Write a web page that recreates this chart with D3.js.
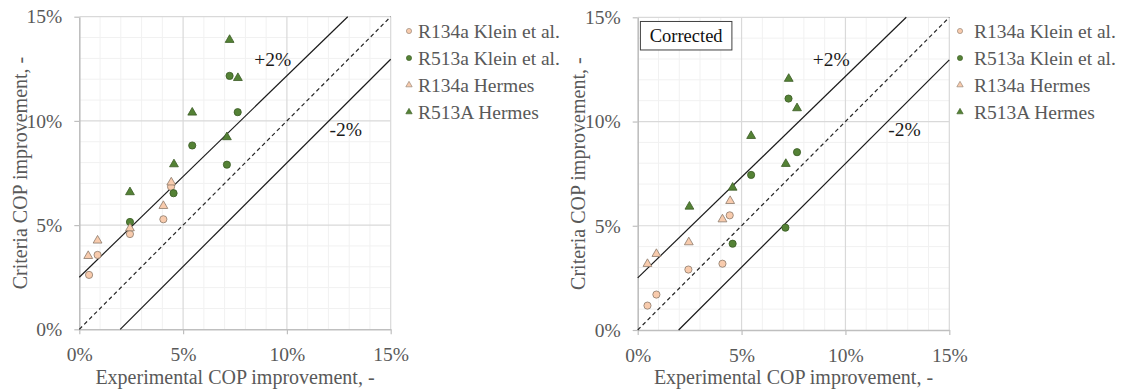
<!DOCTYPE html>
<html>
<head>
<meta charset="utf-8">
<script src="https://cdn.jsdelivr.net/npm/d3@7"></script>
<style>
  html, body { margin: 0; padding: 0; background: #ffffff; }
  svg { display: block; }
  svg text { font-family: "Liberation Serif", "Times New Roman", Times, "DejaVu Serif", serif !important; }
</style>
</head>
<body>
<svg id="chart" width="1125" height="389"></svg>
<script>
// COP improvement in percent: [experimental, criteria]
const seriesNames = ["R134a Klein et al.", "R513a Klein et al.", "R134a Hermes", "R513A Hermes"];
const seriesShapes = ["circle", "circle", "triangle", "triangle"];
const seriesFill = ["#f8cbad", "#548235", "#f8cbad", "#548235"];
const seriesStroke = ["#8c7a6b", "#3a5a24", "#8c7a6b", "#3a5a24"];

// Raw criteria
const rawR134aKlein = [[0.47, 2.61], [0.88, 3.57], [2.44, 4.57], [4.05, 5.28], [4.42, 6.84]];
const rawR513aKlein = [[2.44, 5.15], [4.54, 6.53], [5.44, 8.82], [7.11, 7.90], [7.24, 12.16], [7.63, 10.42]];
const rawR134aHermes = [[0.43, 3.52], [0.88, 4.26], [2.44, 4.85], [4.05, 5.92], [4.43, 7.05]];
const rawR513AHermes = [[2.44, 6.58], [4.56, 7.92], [5.44, 10.40], [7.11, 9.22], [7.24, 13.89], [7.64, 12.06]];

// Corrected criteria
const corR134aKlein = [[0.47, 1.17], [0.90, 1.70], [2.44, 2.90], [4.08, 3.18], [4.43, 5.50]];
const corR513aKlein = [[4.57, 4.14], [5.46, 7.44], [7.11, 4.91], [7.26, 11.10], [7.67, 8.53]];
const corR134aHermes = [[0.47, 3.17], [0.90, 3.65], [2.46, 4.21], [4.08, 5.31], [4.45, 6.19]];
const corR513AHermes = [[2.49, 5.92], [4.57, 6.83], [5.46, 9.31], [7.13, 7.97], [7.27, 12.05], [7.67, 10.64]];

// Reference band: parity line and the +2% / -2% bounds
const parityLine = [[0, 0], [15, 15]];
const upperBound = [[0, 2.5], [12.93, 15]];
const lowerBound = [[1.97, 0], [15, 12.96]];
const boundLabels = [["+2%", 9.32, 12.97], ["-2%", 12.84, 9.62]];

const tickValues = [0, 5, 10, 15];
const minorValues = d3.range(0, 16, 1);
const xTitle = "Experimental COP improvement, -";
const yTitle = "Criteria COP improvement, -";

const panels = [
  { left: 79.3, right: 390.7, top: 16.7, bottom: 329.3, yTitleX: 20, legendX: 409, legendTextX: 418,
    data: [rawR134aKlein, rawR513aKlein, rawR134aHermes, rawR513AHermes], tag: null },
  { left: 637.7, right: 949.3, top: 17.3, bottom: 330, yTitleX: 578, legendX: 960, legendTextX: 974,
    data: [corR134aKlein, corR513aKlein, corR134aHermes, corR513AHermes], tag: "Corrected" }
];

const serif = "Liberation Serif, Times New Roman, DejaVu Serif, serif";
const svg = d3.select("#chart").attr("font-family", serif);
const textGray = "#595959";

function marker(sel, shape, size) {
  if (shape === "circle") {
    return sel.append("circle").attr("r", size);
  }
  return sel.append("path").attr("d", d3.symbol(d3.symbolTriangle, size * size * 2.6)());
}

panels.forEach(p => {
  const x = d3.scaleLinear().domain([0, 15]).range([p.left, p.right]);
  const y = d3.scaleLinear().domain([0, 15]).range([p.bottom, p.top]);
  const g = svg.append("g");

  // minor grid
  g.append("g").selectAll("line").data(minorValues.filter(v => v % 5 !== 0)).join("line")
    .attr("x1", d => x(d)).attr("x2", d => x(d)).attr("y1", y(0)).attr("y2", y(15))
    .attr("stroke", "#f1f1f1").attr("stroke-width", 1);
  g.append("g").selectAll("line").data(minorValues.filter(v => v % 5 !== 0)).join("line")
    .attr("x1", x(0)).attr("x2", x(15)).attr("y1", d => y(d)).attr("y2", d => y(d))
    .attr("stroke", "#f1f1f1").attr("stroke-width", 1);
  // major grid
  g.append("g").selectAll("line").data(tickValues.slice(1)).join("line")
    .attr("x1", d => x(d)).attr("x2", d => x(d)).attr("y1", y(0)).attr("y2", y(15))
    .attr("stroke", "#d9d9d9").attr("stroke-width", 1.2);
  g.append("g").selectAll("line").data(tickValues.slice(1)).join("line")
    .attr("x1", x(0)).attr("x2", x(15)).attr("y1", d => y(d)).attr("y2", d => y(d))
    .attr("stroke", "#d9d9d9").attr("stroke-width", 1.2);

  // axes
  const xAxis = g.append("g").attr("transform", `translate(0,${y(0)})`)
    .call(d3.axisBottom(x).tickValues(tickValues).tickFormat(d => d + "%").tickSizeInner(5).tickSizeOuter(0).tickPadding(13));
  const yAxis = g.append("g").attr("transform", `translate(${x(0)},0)`)
    .call(d3.axisLeft(y).tickValues(tickValues).tickFormat(d => d + "%").tickSizeInner(5).tickSizeOuter(0).tickPadding(12));
  [xAxis, yAxis].forEach(a => {
    a.attr("font-family", serif);
    a.select(".domain").attr("stroke", "#bfbfbf").attr("stroke-width", 1.6);
    a.selectAll(".tick line").attr("stroke", "#bfbfbf").attr("stroke-width", 1.2);
    a.selectAll(".tick text").attr("fill", textGray).attr("font-size", "19.5px");
  });
  xAxis.selectAll(".tick text").attr("dy", "0.71em");

  // reference lines
  const line = d3.line().x(d => x(d[0])).y(d => y(d[1]));
  g.append("path").attr("d", line(parityLine)).attr("fill", "none")
    .attr("stroke", "#262626").attr("stroke-width", 1.2).attr("stroke-dasharray", "4,3");
  [upperBound, lowerBound].forEach(b => {
    g.append("path").attr("d", line(b)).attr("fill", "none")
      .attr("stroke", "#1a1a1a").attr("stroke-width", 1.2);
  });
  g.selectAll("text.bound").data(boundLabels).join("text")
    .attr("x", d => x(d[1])).attr("y", d => y(d[2])).attr("dy", "0.35em")
    .attr("text-anchor", "middle").attr("font-size", "19.5px").attr("fill", "#1a1a1a")
    .text(d => d[0]);

  // points
  p.data.forEach((series, i) => {
    const sg = g.append("g");
    series.forEach(pt => {
      const m = sg.append("g").attr("transform", `translate(${x(pt[0])},${y(pt[1])})`);
      marker(m, seriesShapes[i], 3.6)
        .attr("fill", seriesFill[i]).attr("stroke", seriesStroke[i]).attr("stroke-width", 0.8);
    });
  });

  // titles
  g.append("text").attr("x", (p.left + p.right) / 2).attr("y", 384)
    .attr("text-anchor", "middle").attr("font-size", "20px").attr("fill", textGray).text(xTitle);
  g.append("text").attr("transform", `translate(${p.yTitleX},${(p.top + p.bottom) / 2}) rotate(-90)`)
    .attr("dy", "0.35em").attr("text-anchor", "middle").attr("font-size", "20px").attr("fill", textGray).text(yTitle);

  // legend
  const lg = g.append("g");
  seriesNames.forEach((name, i) => {
    const ly = 31 + i * 27;
    const m = lg.append("g").attr("transform", `translate(${p.legendX},${ly})`);
    marker(m, seriesShapes[i], 2.6)
      .attr("fill", seriesFill[i]).attr("stroke", seriesStroke[i]).attr("stroke-width", 0.6);
    lg.append("text").attr("x", p.legendTextX).attr("y", ly).attr("dy", "0.35em")
      .attr("font-size", "19.5px").attr("fill", textGray).text(name);
  });

  // panel tag box
  if (p.tag) {
    const tg = g.append("g");
    tg.append("rect").attr("x", x(0.13)).attr("y", y(14.8)).attr("width", 91.5).attr("height", 28.5)
      .attr("fill", "#ffffff").attr("stroke", "#404040").attr("stroke-width", 1);
    tg.append("text").attr("x", x(0.13) + 45.75).attr("y", y(14.8) + 14.5).attr("dy", "0.35em")
      .attr("text-anchor", "middle").attr("font-size", "18.5px").attr("fill", "#111").text(p.tag);
  }
});
</script>
</body>
</html>
